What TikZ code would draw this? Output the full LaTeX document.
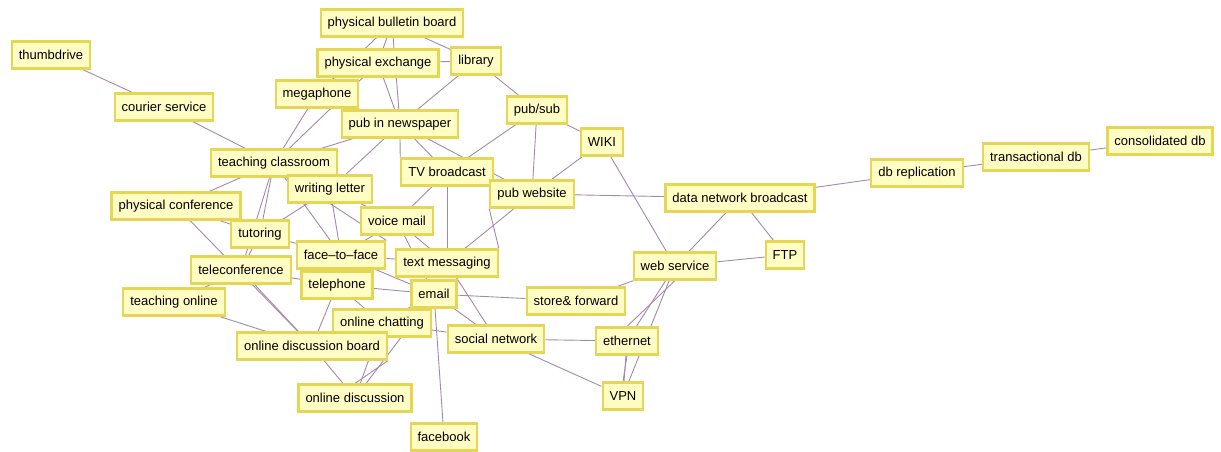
\documentclass[tikz,border=0pt]{standalone}
\usepackage{fontspec}
\setmainfont{Liberation Sans}
\usepackage{tikz}
\usetikzlibrary{positioning,backgrounds}

\definecolor{boxfill}{HTML}{FFFDC4}
\definecolor{boxline}{HTML}{E6D655}
\definecolor{linkcol}{HTML}{A48AA8}

\begin{document}
\begin{tikzpicture}[
    x=1pt, y=-1pt,
    term/.style={rectangle, draw=boxline, line width=2.2pt, fill=boxfill, minimum height=27pt, inner xsep=7pt, font=\fontsize{13}{15}\selectfont},
    link/.style={draw=linkcol, line width=0.9pt}
]
    \useasboundingbox (0,0) rectangle (1221,451);

    % Offline terms
    \node[term] (thumb) at (51,55) {thumbdrive};
    \node[term] (courier) at (164,107) {courier service};
    \node[term] (bulletin) at (392,23) {physical bulletin board};
    \node[term] (exchange) at (378,63) {physical exchange};
    \node[term] (library) at (476,61) {library};
    \node[term] (megaphone) at (317,94) {megaphone};
    \node[term] (newspaper) at (400,124) {pub in newspaper};
    \node[term] (classroom) at (274,163) {teaching classroom};
    \node[term] (letter) at (330,189) {writing letter};
    \node[term] (physconf) at (176,206) {physical conference};
    \node[term] (tutoring) at (260,234) {tutoring};
    \node[term] (ftf) at (341,255) {face--to--face};

    % Broadcast and online terms
    \node[term] (pubsub) at (537,110) {pub/sub};
    \node[term] (wiki) at (602,142) {WIKI};
    \node[term] (tv) at (447,172) {TV broadcast};
    \node[term] (website) at (532,194) {pub website};
    \node[term] (voicemail) at (397,221) {voice mail};
    \node[term] (texting) at (447,263) {text messaging};
    \node[term] (telecon) at (241,270) {teleconference};
    \node[term] (telephone) at (337,285) {telephone};
    \node[term] (email) at (434,294) {email};
    \node[term] (teachonline) at (174,302) {teaching online};
    \node[term] (chatting) at (382,323) {online chatting};
    \node[term] (board) at (312,346) {online discussion board};
    \node[term] (discussion) at (355,398) {online discussion};
    \node[term] (social) at (496,339) {social network};
    \node[term] (facebook) at (444,437) {facebook};

    % Network and data terms
    \node[term] (datanet) at (740,198) {data network broadcast};
    \node[term] (dbrep) at (917,173) {db replication};
    \node[term] (transdb) at (1036,157) {transactional db};
    \node[term] (consdb) at (1160,141) {consolidated db};
    \node[term] (ftp) at (785,255) {FTP};
    \node[term] (websvc) at (675,266) {web service};
    \node[term] (storefwd) at (576,301) {store\& forward};
    \node[term] (ethernet) at (627,341) {ethernet};
    \node[term] (vpn) at (623,396) {VPN};

    % Links
    \begin{scope}[on background layer]
    \draw[link] (thumb) -- (courier);
    \draw[link] (courier) -- (classroom);
    \draw[link] (megaphone) -- (classroom);
    \draw[link] (exchange) -- (classroom);
    \draw[link] (bulletin) -- (exchange);
    \draw[link] (bulletin) -- (megaphone);
    \draw[link] (bulletin) -- (newspaper);
    \draw[link] (bulletin) -- (library);
    \draw[link] (exchange) -- (library);
    \draw[link] (exchange) -- (newspaper);
    \draw[link] (megaphone) -- (newspaper);
    \draw[link] (library) -- (newspaper);
    \draw[link] (library) -- (pubsub);
    \draw[link] (pubsub) -- (tv);
    \draw[link] (pubsub) -- (website);
    \draw[link] (pubsub) -- (wiki);
    \draw[link] (wiki) -- (website);
    \draw[link] (wiki) -- (websvc);
    \draw[link] (website) -- (datanet);
    \draw[link] (datanet) -- (websvc);
    \draw[link] (datanet) -- (ftp);
    \draw[link] (datanet) -- (dbrep);
    \draw[link] (dbrep) -- (transdb);
    \draw[link] (transdb) -- (consdb);
    \draw[link] (websvc) -- (ftp);
    \draw[link] (websvc) -- (storefwd);
    \draw[link] (websvc.south) -- (ethernet.north);
    \draw[link] (websvc) -- (ethernet);
    \draw[link] (websvc) -- (vpn);
    \draw[link] (ethernet) -- (vpn);
    \draw[link] (ethernet.south) -- (vpn.north);
    \draw[link] (social) -- (ethernet);
    \draw[link] (social) -- (vpn);
    \draw[link] (email) -- (storefwd);
    \draw[link] (email) -- (social);
    \draw[link] (email) -- (facebook);
    \draw[link] (tv) -- (website);
    \draw[link] (newspaper) -- (tv);
    \draw[link] (newspaper.south) -- (tv.north west);
    \draw[link] (newspaper) -- (website);
    \draw[link] (newspaper) -- (letter);
    \draw[link] (newspaper) -- (classroom);
    \draw[link] (tv) -- (voicemail);
    \draw[link] (tv) -- (texting);
    \draw[link] (website) -- (texting);
    \draw[link] (website.south west) -- (texting.north east);
    \draw[link] (classroom) -- (physconf);
    \draw[link] (classroom) -- (tutoring);
    \draw[link] (classroom) -- (telecon);
    \draw[link] (classroom) -- (ftf);
    \draw[link] (letter) -- (ftf);
    \draw[link] (letter.south) -- (ftf.north east);
    \draw[link] (letter) -- (voicemail);
    \draw[link] (letter) -- (tutoring);
    \draw[link] (physconf) -- (board);
    \draw[link] (physconf) -- (tutoring);
    \draw[link] (tutoring) -- (telecon);
    \draw[link] (tutoring) -- (ftf);
    \draw[link] (telecon) -- (teachonline);
    \draw[link] (telecon) -- (board);
    \draw[link] (telecon) -- (telephone);
    \draw[link] (teachonline) -- (board);
    \draw[link] (telephone) -- (board);
    \draw[link] (telephone) -- (email);
    \draw[link] (telephone) -- (chatting);
    \draw[link] (ftf) -- (email);
    \draw[link] (ftf) -- (texting);
    \draw[link] (voicemail) -- (texting);
    \draw[link] (voicemail) -- (email);
    \draw[link] (voicemail) -- (ftf);
    \draw[link] (chatting) -- (discussion);
    \draw[link] (chatting) -- (social);
    \draw[link] (chatting) -- (email);
    \draw[link] (board) -- (discussion);
    \draw[link] (board.south east) -- (discussion.north);
    \draw[link] (discussion) -- (email);
    \draw[link] (texting) -- (social);
    \end{scope}
\end{tikzpicture}
\end{document}
